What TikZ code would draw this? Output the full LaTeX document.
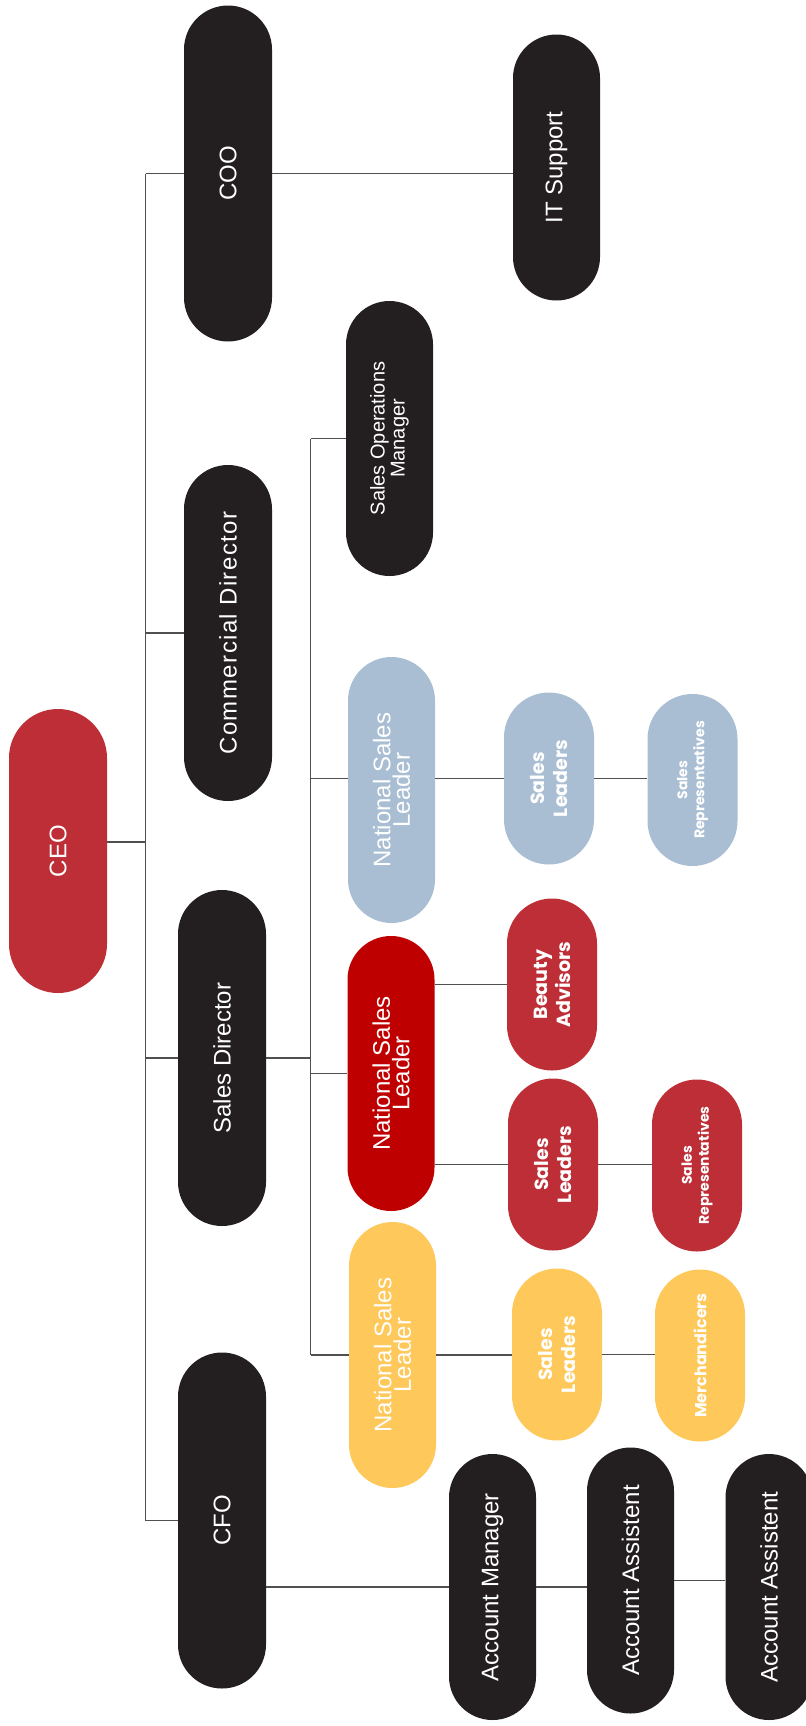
\documentclass[tikz,border=0pt]{standalone}
\usepackage{fontspec}
\setmainfont{Liberation Sans}
\newfontfamily\popfont{Poppins}
\usetikzlibrary{shapes.misc}
\definecolor{ink}{HTML}{231F20}
\definecolor{crimson}{HTML}{BD2E37}
\definecolor{scarlet}{HTML}{BF0000}
\definecolor{steel}{HTML}{A9BED3}
\definecolor{honey}{HTML}{FEC85A}
\definecolor{wire}{HTML}{505050}

\begin{document}
\begin{tikzpicture}[x=0.5pt,y=0.5pt,
    pill/.style={rounded rectangle, rotate=90, inner sep=0pt, text=white, align=center},
    big/.style={pill, fill=ink, minimum width=168pt, minimum height=44pt, font=\fontsize{12}{14}\selectfont},
    mid/.style={pill, minimum width=133pt, minimum height=43.5pt, font=\fontsize{12}{8.5}\selectfont},
    small/.style={pill, minimum width=86pt, minimum height=45pt, font=\popfont\bfseries\fontsize{9.5}{11.5}\selectfont},
    conn/.style={draw=wire, line width=0.6pt}]
    \useasboundingbox (0,0) rectangle (805,-1726);

    \node[pill, fill=crimson, minimum width=142pt, minimum height=49pt, font=\fontsize{12}{14}\selectfont] (ceo) at (58,-851) {CEO};
    \node[big] (coo) at (228,-173.5) {COO};
    \node[big] (cd) at (228,-633) {{\addfontfeature{LetterSpace=6}Commercial Director}};
    \node[big] (sd) at (222,-1058) {Sales Director};
    \node[big] (cfo) at (222,-1520.5) {CFO};
    \node[mid, fill=ink] (it) at (556.5,-167.5) {IT Support};

    \node[mid, fill=ink, minimum width=137.5pt, font=\fontsize{10}{6.5}\selectfont] (som) at (389.5,-438.5) {Sales Operations\\Manager};
    \node[mid, fill=steel] (nslb) at (391.5,-790) {National Sales\\Leader};
    \node[mid, fill=scarlet, minimum width=137.5pt] (nslr) at (391,-1073.5) {National Sales\\Leader};
    \node[mid, fill=honey] (nsly) at (392.5,-1355) {National Sales\\Leader};

    \node[small, fill=steel] (slb) at (549,-778.5) {Sales\\Leaders};
    \node[small, fill=steel, font=\popfont\bfseries\fontsize{7}{8.5}\selectfont] (srb) at (692.5,-780) {Sales\\Representatives};
    \node[small, fill=crimson] (ba) at (552,-984.5) {Beauty\\Advisors};
    \node[small, fill=crimson] (slr) at (553,-1164.5) {Sales\\Leaders};
    \node[small, fill=crimson, font=\popfont\bfseries\fontsize{7}{8.5}\selectfont] (srr) at (697,-1165.5) {Sales\\Representatives};
    \node[small, fill=honey] (sly) at (557,-1354.5) {Sales\\Leaders};
    \node[small, fill=honey, font=\popfont\bfseries\fontsize{8}{9}\selectfont] (mer) at (700,-1355.5) {Merchandicers};

    \node[mid, fill=ink] (am) at (492.5,-1587) {Account Manager};
    \node[mid, fill=ink] (aa1) at (630.5,-1580.5) {Account Assistent};
    \node[mid, fill=ink] (aa2) at (769,-1587) {Account Assistent};

    \coordinate (tr) at (145.5,-842);
    \coordinate (sb) at (310.5,-1057);

    \draw[conn] (ceo.south |- tr) -- (tr);
    \draw[conn] (tr |- coo) -- (tr |- cfo);
    \foreach \n in {coo,cd,sd,cfo}
        \draw[conn] (tr |- \n) -- (\n.north);
    \draw[conn] (coo.south) -- (coo.south -| it.north);

    \draw[conn] (sd.south) -- (sd.south -| sb);
    \draw[conn] (sb |- som) -- (sb |- nsly);
    \foreach \n in {som,nslr,nsly}
        \draw[conn] (sb |- \n) -- (\n.north);
    \draw[conn] (sb |- slb) -- (nslb.north |- slb);

    \draw[conn] (nslb.south |- slb) -- (slb.north);
    \draw[conn] (slb.south) -- (slb.south -| srb.north);
    \draw[conn] (nslr.south |- ba) -- (ba.north);
    \draw[conn] (nslr.south |- slr) -- (slr.north);
    \draw[conn] (slr.south) -- (slr.south -| srr.north);
    \draw[conn] (nsly.south) -- (nsly.south -| sly.north);
    \draw[conn] (sly.south) -- (sly.south -| mer.north);

    \draw[conn] (cfo.south |- am) -- (am.north);
    \draw[conn] (am.south) -- (am.south -| aa1.north);
    \draw[conn] (aa1.south) -- (aa1.south -| aa2.north);
\end{tikzpicture}
\end{document}
